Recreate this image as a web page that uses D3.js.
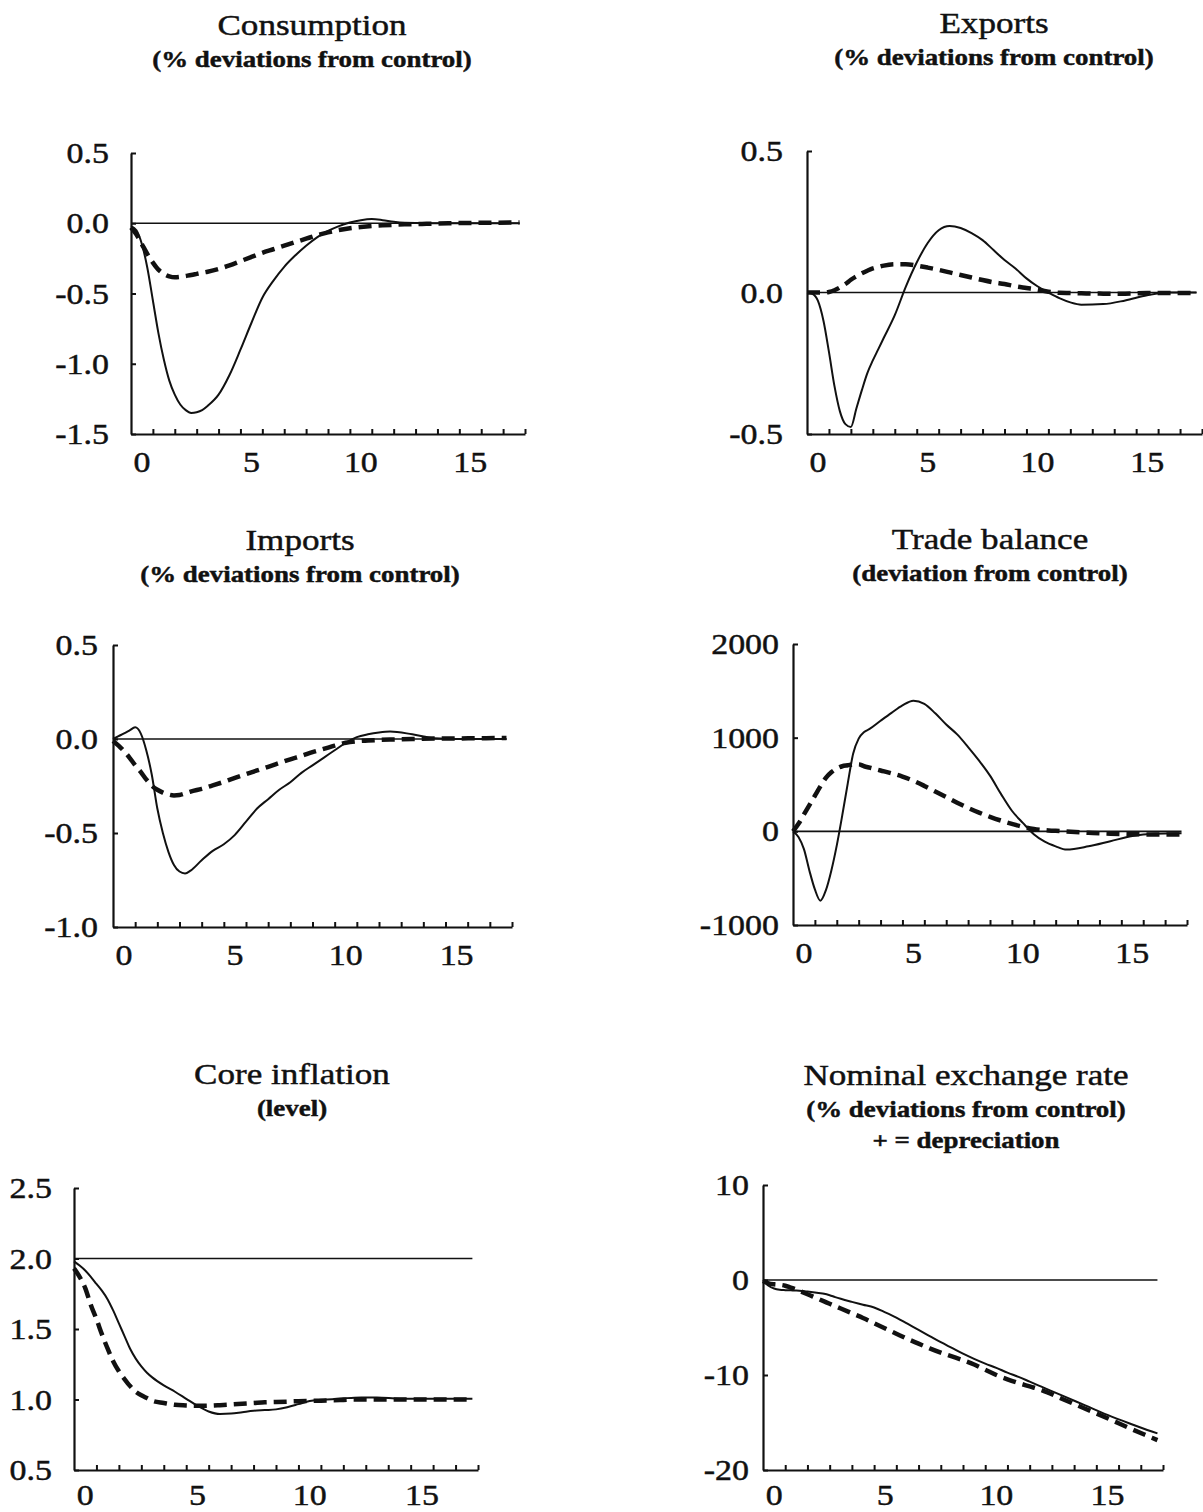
<!DOCTYPE html>
<html>
<head>
<meta charset="utf-8">
<script src="https://cdn.jsdelivr.net/npm/d3@7"></script>
<style>
  body { margin: 0; background: #fff; }
  svg text { font-family: "Liberation Serif", "Times New Roman", serif; fill: #111; stroke: #111; stroke-width: 0.45; }
</style>
</head>
<body>
<div id="chart"></div>
<script>
// time grid (years after shock), shared by every series
const T = [-0.5, -0.25, 0, 0.25, 0.5, 0.75, 1, 1.25, 1.5, 1.75, 2, 2.25, 2.5, 2.75, 3,
  3.5, 4, 4.5, 5, 5.5, 6, 6.5, 7, 7.5, 8, 8.5, 9, 9.5, 10, 10.5, 11, 11.5, 12,
  13, 14, 15, 16, 17, 17.25];

const xLabels = [0, 5, 10, 15];

const consumptionSolid = [-0.02, -0.05, -0.15, -0.32, -0.55, -0.78, -0.97, -1.12, -1.22, -1.29, -1.33, -1.35, -1.345, -1.33, -1.30,
  -1.22, -1.08, -0.9, -0.71, -0.53, -0.41, -0.31, -0.23, -0.16, -0.10, -0.055, -0.02, 0.005, 0.022, 0.03, 0.022, 0.01, 0.003,
  0, 0, 0, 0, 0, 0];
const consumptionDashed = [-0.03, -0.08, -0.15, -0.22, -0.28, -0.33, -0.36, -0.378, -0.385, -0.382, -0.375, -0.368, -0.36, -0.352, -0.345,
  -0.325, -0.30, -0.27, -0.24, -0.21, -0.185, -0.16, -0.135, -0.11, -0.085, -0.065, -0.048, -0.036, -0.027, -0.02, -0.015, -0.011, -0.008,
  -0.004, 0, 0.002, 0.004, 0.005, 0.005];

const exportsSolid = [0, -0.005, -0.03, -0.10, -0.21, -0.33, -0.42, -0.465, -0.475, -0.41, -0.345, -0.285, -0.24, -0.20, -0.16,
  -0.08, 0.02, 0.106, 0.175, 0.22, 0.235, 0.228, 0.21, 0.185, 0.15, 0.115, 0.085, 0.05, 0.022, 0.0, -0.02, -0.035, -0.043,
  -0.041, -0.028, -0.01, 0, 0, 0];
const exportsDashed = [0, 0, 0, 0, 0.002, 0.008, 0.018, 0.03, 0.045, 0.057, 0.068, 0.077, 0.085, 0.09, 0.095,
  0.1, 0.1, 0.095, 0.088, 0.08, 0.071, 0.062, 0.053, 0.044, 0.036, 0.03, 0.022, 0.016, 0.01, 0.003, -0.001, -0.002, -0.003,
  -0.004, -0.004, -0.002, -0.002, -0.002, -0.002];

const importsSolid = [0, 0.015, 0.03, 0.046, 0.062, 0.03, -0.06, -0.19, -0.37, -0.50, -0.60, -0.67, -0.705, -0.715, -0.70,
  -0.645, -0.595, -0.56, -0.51, -0.44, -0.37, -0.32, -0.27, -0.23, -0.18, -0.14, -0.10, -0.06, -0.02, 0.01, 0.025, 0.035, 0.04,
  0.025, 0.004, 0, 0, 0, 0];
const importsDashed = [-0.01, -0.035, -0.065, -0.10, -0.14, -0.175, -0.215, -0.248, -0.27, -0.285, -0.295, -0.30, -0.298, -0.29, -0.28,
  -0.265, -0.247, -0.228, -0.207, -0.187, -0.167, -0.148, -0.128, -0.108, -0.09, -0.07, -0.053, -0.035, -0.02, -0.012, -0.008, -0.005, -0.003,
  0, 0.002, 0.003, 0.004, 0.005, 0.005];

const tradeSolid = [0, -60, -190, -420, -620, -740, -630, -420, -150, 170, 510, 830, 990, 1060, 1093,
  1180, 1265, 1345, 1395, 1360, 1260, 1140, 1035, 900, 755, 595, 400, 220, 90, -30, -110, -160, -195,
  -160, -105, -50, -25, -20, -20];
const tradeDashed = [0, 80, 180, 280, 380, 480, 570, 630, 670, 695, 705, 715, 715, 695, 680,
  650, 620, 585, 540, 485, 425, 365, 305, 250, 200, 155, 115, 80, 48, 25, 12, 5, -3,
  -15, -25, -30, -35, -35, -35];

const coreSolid = [1.98, 1.95, 1.915, 1.87, 1.82, 1.77, 1.71, 1.63, 1.54, 1.45, 1.36, 1.29, 1.235, 1.19, 1.155,
  1.1, 1.055, 1.005, 0.955, 0.915, 0.897, 0.9, 0.91, 0.92, 0.925, 0.93, 0.945, 0.967, 0.99, 0.998, 1.002, 1.008, 1.013,
  1.014, 1.006, 1.005, 1.005, 1.005, 1.005];
const coreDashed = [1.93, 1.87, 1.79, 1.67, 1.57, 1.46, 1.36, 1.27, 1.2, 1.145, 1.095, 1.055, 1.03, 1.01, 0.99,
  0.975, 0.962, 0.958, 0.955, 0.956, 0.96, 0.965, 0.97, 0.975, 0.98, 0.982, 0.985, 0.988, 0.99, 0.992, 0.995, 0.997, 1.0,
  1.0, 1.0, 1.0, 1.0, 1.0, 1.0];

const exchangeSolid = [0, -0.6, -0.9, -1.03, -1.07, -1.09, -1.11, -1.15, -1.22, -1.3, -1.38, -1.45, -1.6, -1.8, -1.98,
  -2.3, -2.6, -2.9, -3.4, -3.95, -4.6, -5.25, -5.9, -6.55, -7.15, -7.75, -8.3, -8.8, -9.25, -9.75, -10.2, -10.7, -11.2,
  -12.2, -13.2, -14.2, -15.1, -15.95, -16.15];
const exchangeDashed = [-0.1, -0.35, -0.45, -0.5, -0.6, -0.8, -1.0, -1.25, -1.5, -1.75, -2.0, -2.25, -2.5, -2.75, -3.0,
  -3.5, -4.0, -4.55, -5.1, -5.65, -6.2, -6.7, -7.2, -7.65, -8.05, -8.45, -8.9, -9.45, -10.0, -10.45, -10.85, -11.2, -11.55,
  -12.55, -13.55, -14.55, -15.6, -16.6, -16.85];

// y tick labels
const consumptionTicks = [-1.5, -1.0, -0.5, 0.0, 0.5];
const exportsTicks = [-0.5, 0.0, 0.5];
const importsTicks = [-1.0, -0.5, 0.0, 0.5];
const tradeTicks = [-1000, 0, 1000, 2000];
const coreTicks = [0.5, 1.0, 1.5, 2.0, 2.5];
const exchangeTicks = [-20, -10, 0, 10];

// control (reference) levels
const controlLevels = [0, 0, 0, 0, 2.0, 0];

const dec1 = v => v.toFixed(1);
const int0 = v => String(v);

const panels = [
  { title: ["Consumption", "(% deviations from control)"], tx: 312, ty: 35,
    left: 131, right: 525, top: 153, bottom: 434, gap: 22, lab: 38,
    ticks: consumptionTicks, fmt: dec1, solid: consumptionSolid, dashed: consumptionDashed, ref: controlLevels[0] },
  { title: ["Exports", "(% deviations from control)"], tx: 994, ty: 33,
    left: 807, right: 1202, top: 151, bottom: 434, gap: 24, lab: 38,
    ticks: exportsTicks, fmt: dec1, solid: exportsSolid, dashed: exportsDashed, ref: controlLevels[1] },
  { title: ["Imports", "(% deviations from control)"], tx: 300, ty: 550,
    left: 113, right: 512, top: 645, bottom: 927, gap: 15, lab: 38,
    ticks: importsTicks, fmt: dec1, solid: importsSolid, dashed: importsDashed, ref: controlLevels[2] },
  { title: ["Trade balance", "(deviation from control)"], tx: 990, ty: 549,
    left: 793, right: 1187, top: 644, bottom: 925, gap: 14, lab: 38,
    ticks: tradeTicks, fmt: int0, solid: tradeSolid, dashed: tradeDashed, ref: controlLevels[3] },
  { title: ["Core inflation", "(level)"], tx: 292, ty: 1084,
    left: 74, right: 478, top: 1188, bottom: 1470, gap: 22, lab: 35,
    ticks: coreTicks, fmt: dec1, solid: coreSolid, dashed: coreDashed, ref: controlLevels[4] },
  { title: ["Nominal exchange rate", "(% deviations from control)", "+ = depreciation"], tx: 966, ty: 1085,
    left: 763, right: 1163, top: 1185, bottom: 1470, gap: 14, lab: 35,
    ticks: exchangeTicks, fmt: int0, solid: exchangeSolid, dashed: exchangeDashed, ref: controlLevels[5] }
];

const SX = 1.17; // the scanned type is wider than the font

const svg = d3.select("#chart").append("svg")
  .attr("width", 1203)
  .attr("height", 1512);

function stretchedText(g, x, y, txt, size, weight, anchor) {
  return g.append("text")
    .attr("transform", `translate(${x},${y}) scale(${SX},1)`)
    .attr("text-anchor", anchor)
    .attr("font-size", size)
    .attr("font-weight", weight)
    .text(txt);
}

panels.forEach(p => {
  const g = svg.append("g");

  const x = d3.scaleLinear().domain([-0.5, 17.5]).range([p.left, p.right]);
  const y = d3.scaleLinear().domain(d3.extent(p.ticks)).range([p.bottom, p.top]);

  // titles
  stretchedText(g, p.tx, p.ty, p.title[0], 30, "normal", "middle");
  p.title.slice(1).forEach((t, i) => {
    stretchedText(g, p.tx, p.ty + 32 + i * 31, t, 23, "bold", "middle")
      .attr("stroke-width", 0.2);
  });

  // control line
  g.append("line")
    .attr("x1", x(T[0])).attr("x2", x(T[T.length - 1]))
    .attr("y1", y(p.ref)).attr("y2", y(p.ref))
    .attr("stroke", "#111").attr("stroke-width", 1.6);

  const line = d3.line()
    .x((d, i) => x(T[i]))
    .y(d => y(d))
    .curve(d3.curveMonotoneX);

  g.append("path")
    .datum(p.solid)
    .attr("fill", "none")
    .attr("stroke", "#111")
    .attr("stroke-width", 2)
    .attr("d", line);

  g.append("path")
    .datum(p.dashed)
    .attr("fill", "none")
    .attr("stroke", "#111")
    .attr("stroke-width", 4.5)
    .attr("stroke-dasharray", "13,7")
    .attr("d", line);

  // axes: ticks point inward
  const yAxis = g.append("g")
    .attr("transform", `translate(${p.left},0)`)
    .call(d3.axisLeft(y).tickValues(p.ticks).tickSize(-5).tickSizeOuter(0).tickFormat(""));

  const xAxis = g.append("g")
    .attr("transform", `translate(0,${p.bottom})`)
    .call(d3.axisBottom(x).tickValues(d3.range(0.5, 18, 1)).tickSize(-5).tickSizeOuter(0).tickFormat(""));

  [yAxis, xAxis].forEach(a => {
    a.select(".domain").attr("stroke", "#111").attr("stroke-width", 2.2);
    a.selectAll(".tick line").attr("stroke", "#111").attr("stroke-width", 2);
  });

  // tick labels
  p.ticks.forEach(v => {
    stretchedText(g, p.left - p.gap, y(v) + 10, p.fmt(v), 29, "normal", "end");
  });
  xLabels.forEach(v => {
    stretchedText(g, x(v), p.bottom + p.lab, String(v), 29, "normal", "middle");
  });
});
</script>
</body>
</html>
